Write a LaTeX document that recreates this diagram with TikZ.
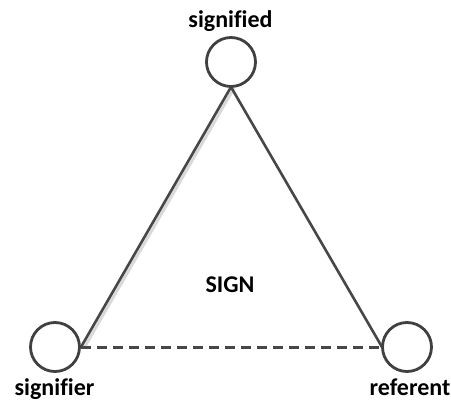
\documentclass[tikz,border=0pt]{standalone}
\usepackage{fontspec}
\setmainfont{Carlito}[Ligatures=NoCommon]
\begin{document}
\begin{tikzpicture}[x=1pt,y=-1pt,
  vert/.style={circle,draw=black!75,line width=2.8pt,fill=white,minimum size=49pt,inner sep=0pt},
  edge/.style={draw=black!72,line width=2.6pt},
  shade/.style={draw=black!15,line width=3pt},
  lbl/.style={font=\bfseries\fontsize{24}{28}\selectfont,inner sep=0pt,anchor=base}]
\useasboundingbox (0,0) rectangle (451,402);
\coordinate (tb) at (231,87);
\coordinate (lr) at (81,347);
\coordinate (rl) at (382,347);
\draw[shade] ([xshift=3pt,yshift=-1pt]tb) -- ([xshift=3pt,yshift=-1pt]lr);
\draw[edge] (tb) -- (lr);
\draw[edge] (tb) -- (rl);
\draw[edge,line width=3pt,dash pattern=on 10pt off 6pt] (lr) -- (rl);
\node[vert] (sd) at (231,62) {};
\node[vert] (sr) at (55,347) {};
\node[vert] (rf) at (407,347) {};
\node[lbl] (t1) at (230.5,27) {signified};
\node[lbl] (t2) at (54.5,395) {signifier};
\node[lbl] (t3) at (410,395) {referent};
\node[lbl] (t4) at (230,292) {SIGN};
\end{tikzpicture}
\end{document}
